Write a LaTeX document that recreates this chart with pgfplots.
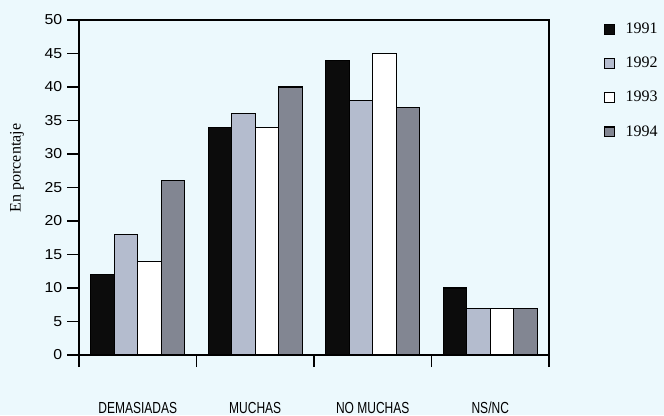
\documentclass[border=0pt]{standalone}
\usepackage{pgfplots}
\pgfplotsset{compat=1.18}
\usepackage{fontspec}
\setmainfont{Liberation Serif}
\newfontfamily\sansf{Liberation Sans}[FakeStretch=1.1]
\newfontfamily\narrowf{Liberation Sans}[FakeStretch=0.75]
\definecolor{bg}{RGB}{236,249,253}
\definecolor{c91}{RGB}{12,12,12}
\definecolor{c92}{RGB}{180,188,206}
\definecolor{c93}{RGB}{255,255,255}
\definecolor{c94}{RGB}{130,134,146}
\pgfplotsset{
  sq/.style={legend image code/.code={\draw[##1,draw=black,line width=0.8pt] (0pt,-3.6pt) rectangle (7.2pt,3.6pt);}},
}
\begin{document}
\begin{tikzpicture}
\fill[bg] (0,0) rectangle (498pt,311.25pt);
\begin{axis}[
  at={(59.25pt,45pt)}, anchor=south west,
  scale only axis, width=352.5pt, height=251.25pt,
  xmin=-0.5, xmax=3.5, ymin=0, ymax=50,
  ybar=0pt, bar width=17.7pt,
  axis line style={line width=1pt},
  tick style={line width=1pt, black},
  tick align=outside, xtick pos=bottom, ytick pos=left,
  ytick={0,5,...,50},
  /pgf/number format/assume math mode=true,
  xtick={-0.5,0.5,1.5,2.5,3.5}, xticklabels={},
  extra x ticks={0,1,2,3},
  extra x tick labels={DEMASIADAS,MUCHAS,NO MUCHAS,NS/NC},
  extra x tick style={tick style={draw=none}},
  major tick length=9pt,
  xticklabel style={font=\narrowf\fontsize{12}{13}\selectfont, inner ysep=0pt, yshift=-26pt},
  yticklabel style={font=\sansf\fontsize{10.8}{13}\selectfont},
  ylabel={En porcentaje},
  every axis y label/.style={at={(axis description cs:-0.132,0.558)}, rotate=90, anchor=center, font=\fontsize{12}{13}\selectfont},
  legend style={at={(axis description cs:1.117,1.0)}, anchor=north west, draw=none, fill=none,
    font=\fontsize{12}{13}\selectfont, row sep=12.2pt, inner sep=0pt,
    nodes={inner xsep=8pt}},
  legend cell align=left,
]
\addplot[fill=c91, draw=black, line width=0.8pt, sq] coordinates {(0,12) (1,34) (2,44) (3,10)};
\addplot[fill=c92, draw=black, line width=0.8pt, sq] coordinates {(0,18) (1,36) (2,38) (3,7)};
\addplot[fill=c93, draw=black, line width=0.8pt, sq] coordinates {(0,14) (1,34) (2,45) (3,7)};
\addplot[fill=c94, draw=black, line width=0.8pt, sq] coordinates {(0,26) (1,40) (2,37) (3,7)};
\legend{1991,1992,1993,1994}
\end{axis}
\pgfresetboundingbox
\useasboundingbox (0,0) rectangle (498pt,311.25pt);
\end{tikzpicture}
\end{document}
